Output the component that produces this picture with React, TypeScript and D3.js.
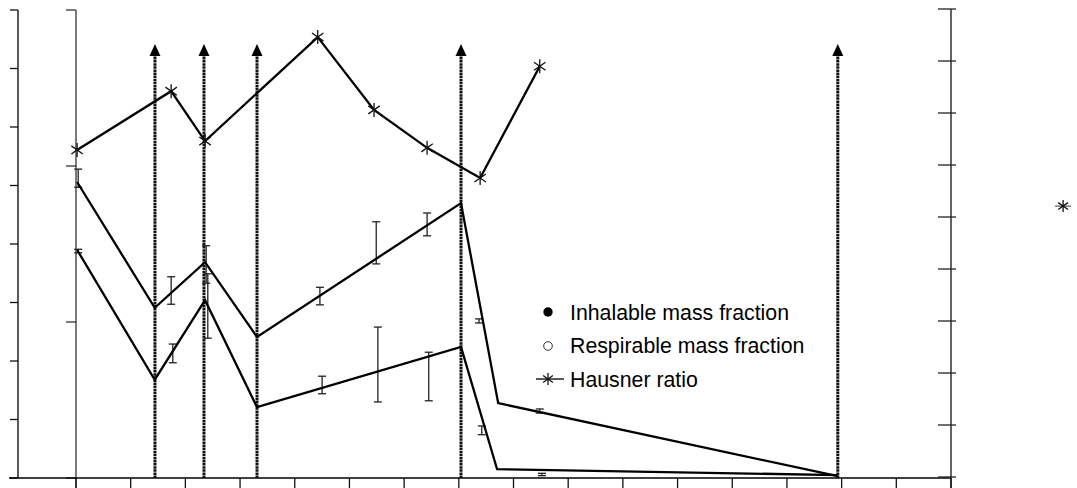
import React from "react";
import * as d3 from "d3";

// x positions are in units of the bottom-axis tick spacing
const inhalableX = [0.02, 1.44, 2.36, 3.31, 7.04, 7.72, 13.93];
const inhalableY = [50.6, 29.1, 36.9, 24.1, 47.0, 12.8, 0.3];

const respirableX = [0.02, 1.44, 2.36, 3.31, 7.04, 7.7, 13.93];
const respirableY = [39.0, 16.8, 30.4, 12.1, 22.4, 1.5, 0.5];

const hausnerX = [0.02, 1.74, 2.36, 4.42, 5.45, 6.42, 7.39, 8.48];
const hausnerY = [1.629, 1.742, 1.646, 1.846, 1.706, 1.633, 1.575, 1.79];

const hausnerLoneX = [18.05];
const hausnerLoneY = [1.521];

// error bars [x, low, high]
const inhalableErrX = [0.04, 1.74, 2.38, 4.46, 5.49, 6.42, 7.37, 8.48];
const inhalableErrLo = [49.7, 29.7, 33.3, 29.6, 36.6, 41.4, 26.5, 11.1];
const inhalableErrHi = [52.8, 34.4, 39.7, 32.6, 43.8, 45.3, 27.2, 11.8];

const respirableErrX = [0.04, 1.77, 2.41, 4.5, 5.52, 6.45, 7.42, 8.52];
const respirableErrLo = [38.5, 19.7, 23.9, 14.4, 13.0, 13.2, 7.4, 0.4];
const respirableErrHi = [39.1, 22.9, 34.9, 17.4, 25.8, 21.5, 8.9, 0.8];

const arrowX = [1.444, 2.34, 3.31, 7.04, 13.93];
const arrowTop = 74.2;

const bottomTicks = d3.range(0, 17);
const outerLeftTicks = d3.range(0, 90, 10);
const innerLeftTicks = [0, 10, 20, 30];
const rightTicks = d3.range(0, 10).map((i) => 1.0 + i * 0.1);

const legendLabels = ["Inhalable mass fraction", "Respirable mass fraction", "Hausner ratio"];

const W = 1077;
const H = 488;

function Star({ cx, cy, r }: { cx: number; cy: number; r: number }) {
  const a = (Math.PI / 180) * 35;
  const dx = r * Math.cos(a);
  const dy = r * Math.sin(a);
  return (
    <g stroke="#111" strokeWidth={1.3}>
      <line x1={cx} y1={cy - r} x2={cx} y2={cy + r} />
      <line x1={cx - dx} y1={cy - dy} x2={cx + dx} y2={cy + dy} />
      <line x1={cx - dx} y1={cy + dy} x2={cx + dx} y2={cy - dy} />
    </g>
  );
}

export default function App() {
  const x = d3.scaleLinear().domain([0, 16]).range([76, 951]);
  const yMass = d3.scaleLinear().domain([0, 80]).range([478, 10]);
  const yInner = d3.scaleLinear().domain([0, 30]).range([478, 10]);
  const yH = d3.scaleLinear().domain([1.0, 1.9]).range([477, 9]);

  const line = d3
    .line<[number, number]>()
    .x((d) => x(d[0]))
    .y((d) => yMass(d[1]));
  const lineH = d3
    .line<[number, number]>()
    .x((d) => x(d[0]))
    .y((d) => yH(d[1]));

  const inh = inhalableX.map((v, i) => [v, inhalableY[i]] as [number, number]);
  const resp = respirableX.map((v, i) => [v, respirableY[i]] as [number, number]);
  const haus = hausnerX.map((v, i) => [v, hausnerY[i]] as [number, number]);

  const errBar = (xv: number, lo: number, hi: number, key: string) => {
    const px = x(xv);
    const y1 = yMass(hi);
    const y2 = yMass(lo);
    return (
      <g key={key} stroke="#222" strokeWidth={1.3}>
        <line x1={px} x2={px} y1={y1} y2={y2} />
        <line x1={px - 4} x2={px + 4} y1={y1} y2={y1} />
        <line x1={px - 4} x2={px + 4} y1={y2} y2={y2} />
      </g>
    );
  };

  return (
    <svg
      width={W}
      height={H}
      style={{ position: "absolute", left: 0, top: 0, background: "#fff" }}
      fontFamily="'Liberation Sans', Arial, sans-serif"
    >
      {/* outer left axis */}
      <line x1={18} x2={18} y1={yMass(80)} y2={yMass(0)} stroke="#000" strokeWidth={1.3} />
      {outerLeftTicks.map((t) => (
        <line key={"ol" + t} x1={10} x2={18} y1={yMass(t)} y2={yMass(t)} stroke="#111" strokeWidth={1.3} />
      ))}
      {/* inner left axis */}
      <line x1={x(0)} x2={x(0)} y1={yInner(30)} y2={488} stroke="#333" strokeWidth={1.3} />
      {innerLeftTicks.map((t) => (
        <line key={"il" + t} x1={66} x2={x(0)} y1={yInner(t)} y2={yInner(t)} stroke="#333" strokeWidth={1.3} />
      ))}
      {/* bottom axis */}
      <line x1={9} x2={x(16)} y1={478} y2={478} stroke="#000" strokeWidth={1.3} />
      {bottomTicks.map((t) => (
        <line key={"b" + t} x1={x(t)} x2={x(t)} y1={478} y2={488} stroke="#111" strokeWidth={1.3} />
      ))}
      {/* right axis */}
      <line x1={x(16)} x2={x(16)} y1={yH(1.9)} y2={488} stroke="#111" strokeWidth={1.3} />
      {rightTicks.map((t, i) => (
        <line key={"r" + i} x1={938} x2={956} y1={yH(t)} y2={yH(t)} stroke="#222" strokeWidth={1.3} />
      ))}

      {/* arrows */}
      {arrowX.map((a, i) => {
        const px = x(a);
        const tip = yMass(arrowTop);
        return (
          <g key={"a" + i}>
            <line x1={px} x2={px} y1={478} y2={tip + 8} stroke="#111" strokeWidth={3} strokeDasharray="2.5 0.6" />
            <path d={`M${px},${tip} L${px - 5.5},${tip + 12} L${px + 5.5},${tip + 12} Z`} fill="#000" />
          </g>
        );
      })}

      {/* error bars */}
      {inhalableErrX.map((v, i) => errBar(v, inhalableErrLo[i], inhalableErrHi[i], "ie" + i))}
      {respirableErrX.map((v, i) => errBar(v, respirableErrLo[i], respirableErrHi[i], "re" + i))}

      {/* series lines */}
      <path d={line(inh) || ""} fill="none" stroke="#000" strokeWidth={2.3} />
      <path d={line(resp) || ""} fill="none" stroke="#000" strokeWidth={2.3} />
      <path d={lineH(haus) || ""} fill="none" stroke="#000" strokeWidth={2.3} />
      {haus.map((d, i) => (
        <Star key={"s" + i} cx={x(d[0])} cy={yH(d[1])} r={7} />
      ))}
      {hausnerLoneX.map((v, i) => (
        <g key={"lone" + i}>
          <line x1={x(v) - 8} x2={x(v) + 8} y1={yH(hausnerLoneY[i])} y2={yH(hausnerLoneY[i])} stroke="#333" strokeWidth={1} />
          <Star cx={x(v)} cy={yH(hausnerLoneY[i])} r={6} />
        </g>
      ))}

      {/* legend */}
      <circle cx={548} cy={312} r={4.7} fill="#000" />
      <circle cx={548} cy={346} r={4.3} fill="#fff" stroke="#333" strokeWidth={1} />
      <line x1={536} x2={564} y1={379} y2={379} stroke="#000" strokeWidth={1.3} />
      <Star cx={548} cy={379} r={6} />
      {legendLabels.map((lab, i) => (
        <text key={lab} x={570} y={319.5 + i * 33.5} fontSize={21.3} fill="#000">
          {lab}
        </text>
      ))}
    </svg>
  );
}
